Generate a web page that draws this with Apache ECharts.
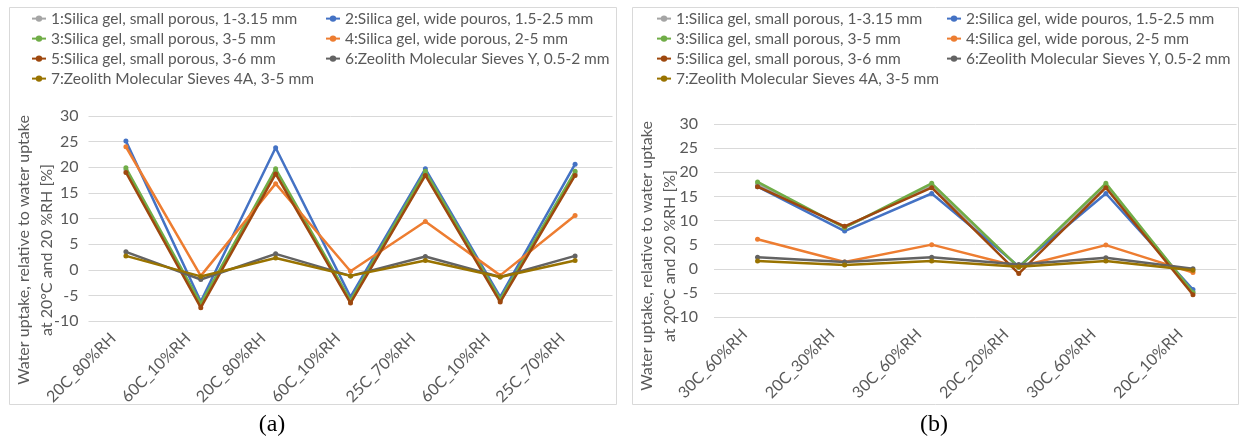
<!DOCTYPE html>
<html><head><meta charset="utf-8">
<script src="https://cdn.jsdelivr.net/npm/echarts@6/dist/echarts.min.js"></script>
<style>html,body{margin:0;padding:0;background:#fff}#c{width:1241px;height:443px}</style>
</head><body><div id="c"></div>
<script>
const seriesNames = [
  '1:Silica gel, small porous, 1-3.15 mm',
  '2:Silica gel, wide pouros, 1.5-2.5 mm',
  '3:Silica gel, small porous, 3-5 mm',
  '4:Silica gel, wide porous, 2-5 mm',
  '5:Silica gel, small porous, 3-6 mm',
  '6:Zeolith Molecular Sieves Y, 0.5-2 mm',
  '7:Zeolith Molecular Sieves 4A, 3-5 mm'
];
const colors = ['#A5A5A5','#4472C4','#70AD47','#ED7D31','#9E480E','#636363','#997300'];

const catsA = ['20C_80%RH','60C_10%RH','20C_80%RH','60C_10%RH','25C_70%RH','60C_10%RH','25C_70%RH'];
const a1 = [19.5, -6.9, 19.3, -6.2, 18.8, -6.0, 18.8];
const a2 = [25.1, -6.2, 23.8, -5.3, 19.7, -5.3, 20.6];
const a3 = [19.9, -6.6, 19.7, -6.0, 19.2, -5.8, 19.2];
const a4 = [24.0, -1.2, 16.8, -0.3, 9.4, -1.1, 10.6];
const a5 = [19.0, -7.4, 18.7, -6.5, 18.4, -6.3, 18.4];
const a6 = [3.5, -1.9, 3.1, -1.2, 2.6, -1.4, 2.7];
const a7 = [2.7, -1.3, 2.3, -1.2, 1.8, -1.4, 1.8];

const catsB = ['30C_60%RH','20C_30%RH','30C_60%RH','20C_20%RH','30C_60%RH','20C_10%RH'];
const b1 = [17.5, 8.6, 17.2, 0.3, 17.2, -4.8];
const b2 = [17.0, 7.8, 15.6, 0.5, 15.6, -4.3];
const b3 = [18.0, 8.5, 17.7, 0.3, 17.7, -4.9];
const b4 = [6.1, 1.4, 5.0, 0.4, 4.9, -0.8];
const b5 = [17.0, 8.8, 16.8, -1.0, 16.8, -5.4];
const b6 = [2.4, 1.4, 2.4, 0.9, 2.3, 0.0];
const b7 = [1.6, 0.8, 1.6, 0.4, 1.6, -0.3];

const yTicks = {min: -10, max: 30, interval: 5};
const yName = 'Water uptake, relative to water uptake\nat 20\u00B0C and 20 %RH [%]';

const FONT = 'Lato';
const TXT = '#595959';
const dataA = [a1,a2,a3,a4,a5,a6,a7];
const dataB = [b1,b2,b3,b4,b5,b6,b7];

function mkSeries(arr, idx) {
  return arr.map((d, i) => ({
    name: seriesNames[i], type: 'line', xAxisIndex: idx, yAxisIndex: idx,
    data: d, color: colors[i], symbol: 'circle', symbolSize: 5,
    lineStyle: {width: 2.5, color: colors[i]}, itemStyle: {color: colors[i]},
    animation: false, z: 2 + i
  }));
}
function mkLegend(names, left) {
  return {
    data: names, orient: 'vertical', left: left, top: 8.6, padding: 0,
    itemGap: 0, itemWidth: 14, itemHeight: 8,
    textStyle: {fontFamily: FONT, fontSize: 15.5, color: TXT, lineHeight: 20, height: 20},
    selectedMode: false
  };
}
const col1 = [seriesNames[0], seriesNames[2], seriesNames[4], seriesNames[6]];
const col2 = [seriesNames[1], seriesNames[3], seriesNames[5]];

function xAx(cats, idx) {
  return {
    type: 'category', gridIndex: idx, data: cats,
    axisLine: {show: false}, axisTick: {show: false},
    axisLabel: {interval: 0, rotate: 45, fontFamily: FONT, fontSize: 16, color: TXT, margin: 2, padding: [0, 18, 0, 0]}
  };
}
function yAx(idx, margin) {
  return {
    type: 'value', gridIndex: idx, min: yTicks.min, max: yTicks.max, interval: yTicks.interval,
    axisLine: {show: false}, axisTick: {show: false},
    axisLabel: {fontFamily: FONT, fontSize: 16, color: TXT, margin: margin},
    splitLine: {lineStyle: {color: '#D9D9D9', width: 1}}
  };
}

const chart = echarts.init(document.getElementById('c'), null, {renderer: 'canvas'});
chart.setOption({
  animation: false,
  backgroundColor: '#fff',
  grid: [
    {left: 88.5, top: 116, width: 524, height: 205},
    {left: 714, top: 124, width: 522.5, height: 193}
  ],
  xAxis: [xAx(catsA, 0), xAx(catsB, 1)],
  yAxis: [yAx(0, 10), yAx(1, 16)],
  legend: [mkLegend(col1, 31), mkLegend(col2, 325), mkLegend(col1, 656), mkLegend(col2, 946)],
  series: mkSeries(dataA, 0).concat(mkSeries(dataB, 1)),
  graphic: [
    {type: 'rect', shape: {x: 9.5, y: 7.5, width: 607, height: 397}, style: {fill: null, stroke: '#D9D9D9', lineWidth: 1}, z: -1},
    {type: 'rect', shape: {x: 632.5, y: 7.5, width: 606, height: 397}, style: {fill: null, stroke: '#D9D9D9', lineWidth: 1}, z: -1},
    {type: 'text', x: 35, y: 250, rotation: Math.PI / 2,
     style: {text: yName, fontFamily: FONT, fontSize: 16, fill: TXT, lineHeight: 23, align: 'center', verticalAlign: 'middle'}},
    {type: 'text', x: 658, y: 256, rotation: Math.PI / 2,
     style: {text: yName, fontFamily: FONT, fontSize: 16, fill: TXT, lineHeight: 23, align: 'center', verticalAlign: 'middle'}},
    {type: 'text', x: 272, y: 425,
     style: {text: '(a)', fontFamily: 'Liberation Serif', fontSize: 24, fill: '#000', align: 'center', verticalAlign: 'middle'}},
    {type: 'text', x: 934, y: 425,
     style: {text: '(b)', fontFamily: 'Liberation Serif', fontSize: 24, fill: '#000', align: 'center', verticalAlign: 'middle'}}
  ]
});
</script>
</body></html>
